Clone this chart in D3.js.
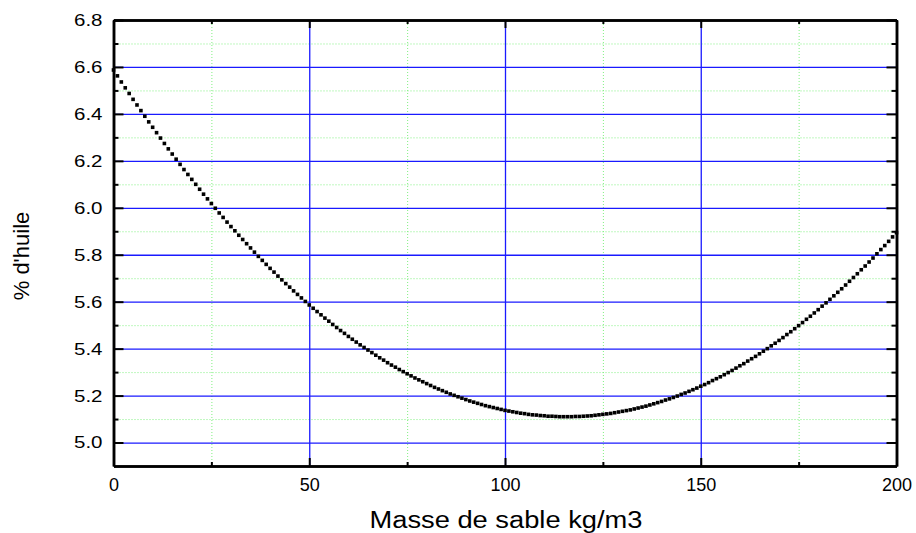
<!DOCTYPE html>
<html>
<head>
<meta charset="utf-8">
<script src="https://cdn.jsdelivr.net/npm/d3@7"></script>
<style>
  body { margin: 0; background: #fff; }
  text { font-family: Arial, "Liberation Sans", sans-serif; fill: #000; }
</style>
</head>
<body>
<div id="chart"></div>
<script>
// % d'huile vs masse de sable, one point per kg/m3 (0..200)
const massStep = 1;
const massX = d3.range(0, 200 + massStep, massStep);
const oilPct = [
  6.587, 6.562, 6.536, 6.511, 6.487, 6.462, 6.438, 6.414, 6.390, 6.366,
  6.343, 6.320, 6.297, 6.274, 6.251, 6.229, 6.207, 6.185, 6.163, 6.142,
  6.121, 6.100, 6.079, 6.058, 6.038, 6.018, 5.998, 5.978, 5.959, 5.939,
  5.920, 5.902, 5.883, 5.865, 5.847, 5.829, 5.811, 5.793, 5.776, 5.759,
  5.742, 5.726, 5.709, 5.693, 5.677, 5.662, 5.646, 5.631, 5.616, 5.601,
  5.586, 5.572, 5.558, 5.544, 5.530, 5.517, 5.503, 5.490, 5.477, 5.465,
  5.452, 5.440, 5.428, 5.416, 5.405, 5.394, 5.383, 5.372, 5.361, 5.351,
  5.340, 5.330, 5.321, 5.311, 5.302, 5.293, 5.284, 5.275, 5.267, 5.259,
  5.251, 5.243, 5.235, 5.228, 5.221, 5.214, 5.207, 5.201, 5.195, 5.189,
  5.183, 5.177, 5.172, 5.167, 5.162, 5.157, 5.153, 5.149, 5.145, 5.141,
  5.137, 5.134, 5.131, 5.128, 5.125, 5.123, 5.120, 5.118, 5.117, 5.115,
  5.114, 5.112, 5.112, 5.111, 5.110, 5.110, 5.110, 5.110, 5.111, 5.111,
  5.112, 5.113, 5.114, 5.116, 5.118, 5.120, 5.122, 5.124, 5.127, 5.130,
  5.133, 5.136, 5.139, 5.143, 5.147, 5.151, 5.155, 5.160, 5.165, 5.170,
  5.175, 5.181, 5.186, 5.192, 5.198, 5.205, 5.211, 5.218, 5.225, 5.232,
  5.240, 5.247, 5.255, 5.264, 5.272, 5.280, 5.289, 5.298, 5.307, 5.317,
  5.327, 5.336, 5.347, 5.357, 5.367, 5.378, 5.389, 5.400, 5.412, 5.423,
  5.435, 5.447, 5.460, 5.472, 5.485, 5.498, 5.511, 5.525, 5.538, 5.552,
  5.566, 5.581, 5.595, 5.610, 5.625, 5.640, 5.655, 5.671, 5.687, 5.703,
  5.719, 5.736, 5.752, 5.769, 5.786, 5.804, 5.822, 5.839, 5.857, 5.876,
  5.894
];
const xMajor = [0, 50, 100, 150, 200];
const xMinor = [25, 75, 125, 175];
const yMajor = [5.0, 5.2, 5.4, 5.6, 5.8, 6.0, 6.2, 6.4, 6.6, 6.8];
const yMinor = [5.1, 5.3, 5.5, 5.7, 5.9, 6.1, 6.3, 6.5, 6.7];
const xTitle = "Masse de sable kg/m3";
const yTitle = "% d'huile";

const width = 916;
const height = 533;
const padding = { top: 20, bottom: 67, left: 113.5, right: 19.5 };

const data = massX.map((x, i) => ({ x: x, y: oilPct[i] }));

const svg = d3.select("#chart")
  .append("svg")
  .attr("width", width)
  .attr("height", height);

const xScale = d3.scaleLinear()
  .domain([0, 200])
  .range([padding.left, width - padding.right]);

const yScale = d3.scaleLinear()
  .domain([4.9, 6.8])
  .range([height - padding.bottom, padding.top]);

const plotW = width - padding.left - padding.right;
const plotH = height - padding.top - padding.bottom;

// minor grid, green dotted
svg.append("g")
  .attr("transform", `translate(0,${height - padding.bottom})`)
  .call(d3.axisBottom(xScale).tickValues(xMinor).tickSize(-plotH).tickFormat(""))
  .call(g => g.select(".domain").remove())
  .selectAll("line")
  .attr("stroke", "#80f080")
  .attr("stroke-dasharray", "1,2");

svg.append("g")
  .attr("transform", `translate(${padding.left},0)`)
  .call(d3.axisLeft(yScale).tickValues(yMinor).tickSize(-plotW).tickFormat(""))
  .call(g => g.select(".domain").remove())
  .selectAll("line")
  .attr("stroke", "#80f080")
  .attr("stroke-dasharray", "1,2");

// major grid, blue
svg.append("g")
  .attr("transform", `translate(0,${height - padding.bottom})`)
  .call(d3.axisBottom(xScale).tickValues(xMajor.slice(1, -1)).tickSize(-plotH).tickFormat(""))
  .call(g => g.select(".domain").remove())
  .selectAll("line")
  .attr("stroke", "#1a1aff")
  .attr("stroke-width", 1.3);

svg.append("g")
  .attr("transform", `translate(${padding.left},0)`)
  .call(d3.axisLeft(yScale).tickValues(yMajor.slice(0, -1)).tickSize(-plotW).tickFormat(""))
  .call(g => g.select(".domain").remove())
  .selectAll("line")
  .attr("stroke", "#1a1aff")
  .attr("stroke-width", 1.3);

// axes with inward ticks
function styleAxis(g) {
  g.select(".domain").attr("stroke", "#000").attr("stroke-width", 2.5);
  g.selectAll(".tick line").attr("stroke", "#000").attr("stroke-width", 2);
}

svg.append("g")
  .attr("transform", `translate(${padding.left},0)`)
  .call(d3.axisLeft(yScale).tickValues(yMajor).tickSizeInner(-10).tickSizeOuter(0)
    .tickPadding(11).tickFormat(d3.format(".1f")))
  .call(styleAxis)
  .selectAll("text")
  .style("font-size", "17px")
  .attr("textLength", 28.5)
  .attr("lengthAdjust", "spacingAndGlyphs");

svg.append("g")
  .attr("transform", `translate(${padding.left},0)`)
  .call(d3.axisLeft(yScale).tickValues(yMinor).tickSizeInner(-5).tickSizeOuter(0).tickFormat(""))
  .call(styleAxis);

svg.append("g")
  .attr("transform", `translate(${width - padding.right},0)`)
  .call(d3.axisRight(yScale).tickValues(yMajor).tickSizeInner(-10).tickSizeOuter(0).tickFormat(""))
  .call(styleAxis);

svg.append("g")
  .attr("transform", `translate(${width - padding.right},0)`)
  .call(d3.axisRight(yScale).tickValues(yMinor).tickSizeInner(-5).tickSizeOuter(0).tickFormat(""))
  .call(styleAxis);

svg.append("g")
  .attr("transform", `translate(0,${height - padding.bottom})`)
  .call(d3.axisBottom(xScale).tickValues(xMajor).tickSizeInner(-8).tickSizeOuter(0)
    .tickPadding(12).tickFormat(d3.format("d")))
  .call(styleAxis)
  .selectAll("text").style("font-size", "18px");

svg.append("g")
  .attr("transform", `translate(0,${height - padding.bottom})`)
  .call(d3.axisBottom(xScale).tickValues(xMinor).tickSizeInner(-4).tickSizeOuter(0).tickFormat(""))
  .call(styleAxis);

svg.append("g")
  .attr("transform", `translate(0,${padding.top})`)
  .call(d3.axisTop(xScale).tickValues(xMajor).tickSizeInner(-8).tickSizeOuter(0).tickFormat(""))
  .call(styleAxis);

svg.append("g")
  .attr("transform", `translate(0,${padding.top})`)
  .call(d3.axisTop(xScale).tickValues(xMinor).tickSizeInner(-4).tickSizeOuter(0).tickFormat(""))
  .call(styleAxis);

// points
const size = 3.6;
svg.append("g")
  .selectAll("rect")
  .data(data)
  .enter()
  .append("rect")
  .attr("x", d => xScale(d.x) - size / 2)
  .attr("y", d => yScale(d.y) - size / 2)
  .attr("width", size)
  .attr("height", size)
  .attr("fill", "#000");

// titles
svg.append("text")
  .attr("x", 506)
  .attr("y", 528)
  .attr("text-anchor", "middle")
  .attr("textLength", 273)
  .attr("lengthAdjust", "spacingAndGlyphs")
  .style("font-size", "23px")
  .text(xTitle);

svg.append("text")
  .attr("transform", "translate(29,256) rotate(-90)")
  .attr("text-anchor", "middle")
  .style("font-size", "22px")
  .text(yTitle);
</script>
</body>
</html>
